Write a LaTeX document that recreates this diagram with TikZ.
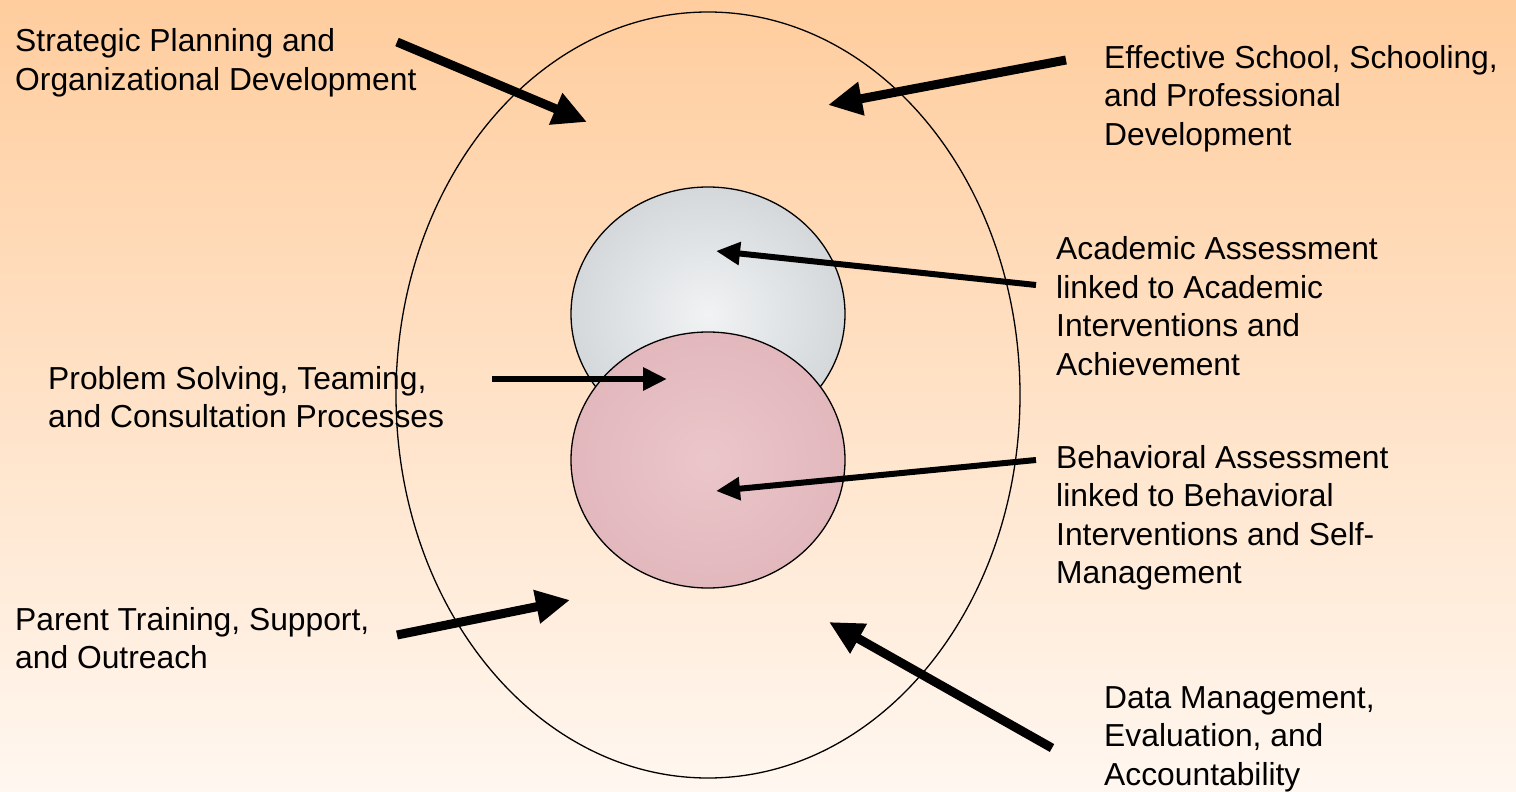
\documentclass[tikz,border=0pt]{standalone}
\usepackage{fontspec}
\setmainfont{Liberation Sans}
\usetikzlibrary{arrows.meta}
\definecolor{bgtop}{RGB}{255,205,158}
\definecolor{bgbot}{RGB}{255,247,240}
\definecolor{marble}{RGB}{226,230,232}
\definecolor{marbledark}{RGB}{212,216,219}
\definecolor{rose}{RGB}{233,193,197}
\definecolor{rosedark}{RGB}{226,184,189}
\tikzset{
  lbl/.style={anchor=north west, inner sep=0pt, align=left, font=\fontsize{31.8}{38.5}\selectfont},
  bigarrow/.style={line width=9pt, -{Triangle[length=34pt,width=32pt]}},
  smallarrow/.style={line width=6pt, -{Triangle[length=24pt,width=22pt]}},
  ring/.style={draw=black, line width=1.3pt}
}
\begin{document}
\begin{tikzpicture}[x=1pt,y=-1pt]
\useasboundingbox (0,0) rectangle (1516,792);
\shade[top color=bgtop, bottom color=bgbot] (0,0) rectangle (1516,792);
% outer ellipse
\draw[ring] (708,395) ellipse [x radius=312, y radius=383];
% inner circles
\shade[inner color=marble!50!white, outer color=marbledark, ring] (708,314) ellipse [x radius=137, y radius=127];
\shade[inner color=rose!92!white, outer color=rosedark, ring] (708,460) ellipse [x radius=137, y radius=128];
% labels
\node[lbl] (sp) at (15,28.5) {Strategic Planning and\\Organizational Development};
\node[lbl] (es) at (1104,45) {Effective School, Schooling,\\and Professional\\Development};
\node[lbl] (aa) at (1056,236.5) {Academic Assessment\\linked to Academic\\Interventions and\\Achievement};
\node[lbl] (ps) at (48,366) {Problem Solving, Teaming,\\and Consultation Processes};
\node[lbl] (ba) at (1056,445) {Behavioral Assessment\\linked to Behavioral\\Interventions and Self-\\Management};
\node[lbl] (pt) at (15,607) {Parent Training, Support,\\and Outreach};
\node[lbl] (dm) at (1104,686) {Data Management,\\Evaluation, and\\Accountability};
% arrow ends
\coordinate (t1) at (397,42);   \coordinate (h1) at (587,122);
\coordinate (t2) at (1066,60);  \coordinate (h2) at (828,105);
\coordinate (t3) at (1036,285); \coordinate (h3) at (716,251);
\coordinate (t4) at (492,379);  \coordinate (h4) at (667,379);
\coordinate (t5) at (1036,460); \coordinate (h5) at (716,491);
\coordinate (t6) at (397,635);  \coordinate (h6) at (570,600);
\coordinate (t7) at (1052,748); \coordinate (h7) at (829,622);
\draw[bigarrow] (t1) -- (h1);
\draw[bigarrow] (t2) -- (h2);
\draw[smallarrow] (t3) -- (h3);
\draw[smallarrow] (t4) -- (h4);
\draw[smallarrow] (t5) -- (h5);
\draw[bigarrow] (t6) -- (h6);
\draw[bigarrow] (t7) -- (h7);
\end{tikzpicture}
\end{document}
